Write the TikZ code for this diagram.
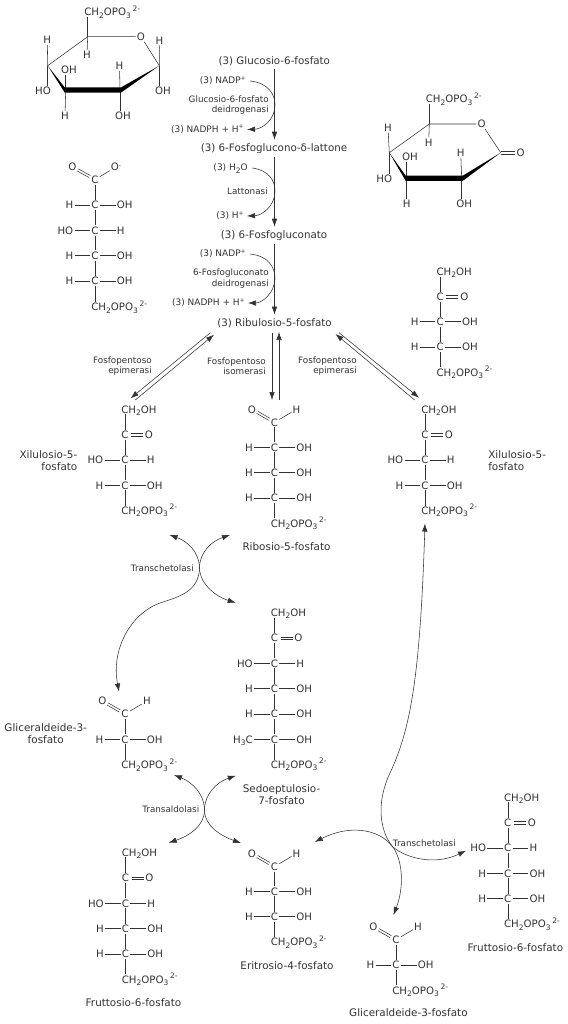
\documentclass[tikz,border=0pt]{standalone}
\usepackage{fontspec}
\setmainfont{DejaVu Sans}
\usetikzlibrary{arrows.meta,calc}
\definecolor{inkgrey}{RGB}{50,50,50}
\newcommand{\low}[1]{\smash{\raisebox{-2.5pt}{\fontsize{7.5}{8}\selectfont #1}}}
\newcommand{\upp}[1]{\smash{\raisebox{4.5pt}{\fontsize{7.5}{8}\selectfont #1}}}
\newcommand{\tinyup}[1]{\smash{\raisebox{3.5pt}{\fontsize{6}{7}\selectfont #1}}}
\newcommand{\phos}{CH\low{2}OPO\low{3}\,\upp{2-}}
% two parallel lines from node to node
\newcommand{\dbond}[3]{
  \draw[shorten <=#3,shorten >=6pt] ($(#1)!1.2pt!90:(#2)$) -- ($(#2)!1.2pt!-90:(#1)$);
  \draw[shorten <=#3,shorten >=6pt] ($(#1)!1.2pt!-90:(#2)$) -- ($(#2)!1.2pt!90:(#1)$);
}
% one carbon with its two side groups
\newcommand{\crow}[5]{
  \node[atom] (#1) at (#2,#3) {C};
  \node[atom,anchor=east] (#1l) at (#2-20.5,#3) {#4};
  \node[atom,anchor=west] (#1r) at (#2+20.5,#3) {#5};
  \draw (#1l) -- (#1);
  \draw (#1) -- (#1r);
}
% CH2OH on top, then the keto carbon
\newcommand{\ctop}[4]{
  \node[atom,anchor=west] (#1) at (#2-5,#3) {CH\low{2}OH};
  \node[atom] (#1c) at (#2,#4) {C};
  \node[atom] (#1o) at (#2+24,#4) {O};
  \draw (#1.south west -| #1c) -- (#1c);
  \dbond{#1c}{#1o}{6pt}
}
% aldehyde carbon
\newcommand{\cald}[3]{
  \node[atom] (#1) at (#2,#3) {C};
  \node[atom] (#1o) at (#2-22.5,#3-13) {O};
  \node[atom] (#1h) at (#2+22,#3-13) {H};
  \dbond{#1o}{#1}{6pt}
  \draw (#1) -- (#1h);
}
\newcommand{\cend}[4]{
  \node[atom,anchor=west] (#1) at (#2-5,#3) {\phos};
  \draw (#4) -- (#1.north west -| #4);
}
\tikzset{
  atom/.style={inner sep=1pt,font=\fontsize{10.2}{11}\selectfont},
  met/.style={inner sep=3.5pt,font=\fontsize{10.3}{12}\selectfont},
  side/.style={inner sep=1pt,font=\fontsize{9}{11}\selectfont},
  enz/.style={inner sep=0pt,align=right,anchor=east,font=\fontsize{8.8}{10.5}\selectfont},
  sugname/.style={inner sep=0pt,align=center,font=\fontsize{10.4}{12}\selectfont},
}
\begin{document}
\begin{tikzpicture}[x=1pt,y=-1pt,>={Latex[length=8pt,width=5.5pt]},line width=0.55pt,color=inkgrey]
  \useasboundingbox (0,0) rectangle (567,1024);

  % glucose-6-phosphate ring
  \coordinate (ga) at (87.7,36.7);
  \coordinate (gb) at (47.7,65.7);
  \coordinate (gc) at (65.7,90);
  \coordinate (gd) at (120,90);
  \coordinate (ge) at (159.3,65.7);
  \node[atom] (go) at (141,36.7) {O};
  \node[atom,anchor=west] (gp) at (83,12) {\phos};
  \node[atom] (gh1) at (87,55) {H};
  \node[atom] (gh2) at (47.3,40) {H};
  \node[atom] (gho) at (43,91) {HO};
  \node[atom] (goh1) at (69,69.5) {OH};
  \node[atom] (gh3) at (65,116) {H};
  \node[atom] (gh4) at (119.5,66) {H};
  \node[atom] (goh2) at (123,116) {OH};
  \node[atom] (gh5) at (159.5,40.5) {H};
  \node[atom] (goh3) at (163,91) {OH};
  \draw (gb) -- (ga) -- (go) -- (ge);
  \draw (ga) -- (gp.south west -| ga);
  \draw (ga) -- (gh1);
  \draw (gb) -- (gh2);
  \draw (gb) -- (gho.north -| gb);
  \draw (gc) -- (goh1.south -| gc);
  \draw (gc) -- (gh3);
  \draw (gd) -- (gh4);
  \draw (gd) -- (goh2.north -| gd);
  \draw (ge) -- (gh5);
  \draw (ge) -- (goh3.north -| ge);
  \fill[black] (gb) -- ($(gc)+(-1,-2.6)$) -- ($(gd)+(1,-2.6)$) -- (ge)
    -- ($(gd)+(1,2.6)$) -- ($(gc)+(-1,2.6)$) -- cycle;

  % lactone ring
  \coordinate (la) at (429.3,124);
  \coordinate (lb) at (389.3,152.7);
  \coordinate (lc) at (406.7,178.3);
  \coordinate (ld) at (461.7,178.3);
  \coordinate (le) at (500.7,152.7);
  \node[atom] (lo) at (481.7,124) {O};
  \node[atom] (lo2) at (520.7,152.7) {O};
  \node[atom,anchor=west] (lp) at (424.5,99) {\phos};
  \node[atom] (lh1) at (428.7,142.3) {H};
  \node[atom] (lh2) at (388,127.7) {H};
  \node[atom] (lho) at (384.3,178.7) {HO};
  \node[atom] (loh1) at (410,156.7) {OH};
  \node[atom] (lh3) at (406.7,203.7) {H};
  \node[atom] (lh4) at (460.7,152.7) {H};
  \node[atom] (loh2) at (464.3,203.7) {OH};
  \draw (lb) -- (la) -- (lo) -- (le);
  \dbond{le}{lo2}{0pt}
  \draw (la) -- (lp.south west -| la);
  \draw (la) -- (lh1);
  \draw (lb) -- (lh2);
  \draw (lb) -- (lho.north -| lb);
  \draw (lc) -- (loh1.south -| lc);
  \draw (lc) -- (lh3);
  \draw (ld) -- (lh4);
  \draw (ld) -- (loh2.north -| ld);
  \fill[black] (lb) -- ($(lc)+(-1,-2.6)$) -- ($(ld)+(1,-2.6)$) -- (le)
    -- ($(ld)+(1,2.6)$) -- ($(lc)+(-1,2.6)$) -- cycle;

  % 6-phosphogluconate
  \node[atom] (pc) at (95,179.5) {C};
  \node[atom] (pco) at (72.5,167) {O};
  \node[atom] (pcm) at (116,167) {O\tinyup{-}};
  \dbond{pco}{pc}{6pt}
  \draw (pc) -- (pcm);
  \crow{pa}{95}{205}{H}{OH}
  \crow{pb}{95}{230.5}{HO}{H}
  \crow{pd}{95}{255.5}{H}{OH}
  \crow{pe}{95}{281}{H}{OH}
  \cend{pf}{95}{307}{pe}
  \draw (pc) -- (pa);
  \draw (pa) -- (pb);
  \draw (pb) -- (pd);
  \draw (pd) -- (pe);

  % ribulose-5-phosphate
  \ctop{ra}{440.3}{271.7}{296.7}
  \crow{rb}{440.3}{321.7}{H}{OH}
  \crow{rc}{440.3}{347}{H}{OH}
  \cend{rd}{440.3}{372.5}{rc}
  \draw (rac) -- (rb);
  \draw (rb) -- (rc);

  % oxidative branch
  \node[met] (gluc) at (274.3,61) {(3) Glucosio-6-fosfato};
  \node[met] (lact) at (274,148.5) {(3) 6-Fosfoglucono-δ-lattone};
  \node[met] (pgl) at (274,235.5) {(3) 6-Fosfogluconato};
  \node[met] (ribu) at (274.5,323) {(3) Ribulosio-5-fosfato};
  \draw[->] (gluc.south -| ribu) -- (lact.north -| ribu);
  \draw[->] (lact.south -| ribu) -- (pgl.north -| ribu);
  \draw[->] (pgl.south -| ribu) -- (ribu.north);

  \node[side,anchor=east] (nadpa) at (247,81) {(3) NADP\tinyup{+}};
  \node[enz] (ga6) at (269,105) {Glucosio-6-fosfato\\deidrogenasi};
  \node[side,anchor=east] (nadha) at (245,129.5) {(3) NADPH + H\tinyup{+}};
  \draw[->] ([xshift=3pt]nadpa.east) .. controls (269,83) and (275,95) .. (275,105)
    .. controls (275,120) and (262,129) .. ([xshift=2pt]nadha.east);
  \node[side,anchor=east] (wat) at (249,168) {(3) H\low{2}O};
  \node[enz] (lat) at (268,191) {Lattonasi};
  \node[side,anchor=east] (prot) at (245,216) {(3) H\tinyup{+}};
  \draw[->] ([xshift=3pt]wat.east) .. controls (269,170) and (275,181) .. (275,191)
    .. controls (275,206) and (262,215.5) .. ([xshift=2pt]prot.east);
  \node[side,anchor=east] (nadpb) at (247,254) {(3) NADP\tinyup{+}};
  \node[enz] (pgd) at (269,278.5) {6-Fosfogluconato\\deidrogenasi};
  \node[side,anchor=east] (nadhb) at (246,303) {(3) NADPH + H\tinyup{+}};
  \draw[->] ([xshift=3pt]nadpb.east) .. controls (269,256) and (275,268) .. (275,278)
    .. controls (275,293) and (262,303) .. ([xshift=2pt]nadhb.east);

  % xylulose left
  \ctop{xa}{125}{409.3}{434.7}
  \crow{xb}{125}{460}{HO}{H}
  \crow{xc}{125}{485.3}{H}{OH}
  \cend{xd}{125}{510.7}{xc}
  \draw (xac) -- (xb);
  \draw (xb) -- (xc);
  \node[sugname,align=right,anchor=east] (xn) at (77.6,461) {Xilulosio-5-\\fosfato};

  % ribose
  \cald{ba}{274.5}{422.3}
  \crow{bb}{274.5}{447.3}{H}{OH}
  \crow{bc}{274.5}{472.7}{H}{OH}
  \crow{bd}{274.5}{498}{H}{OH}
  \cend{be}{274.5}{523.5}{bd}
  \draw (ba) -- (bb);
  \draw (bb) -- (bc);
  \draw (bc) -- (bd);
  \node[sugname] (bn) at (286.5,547) {Ribosio-5-fosfato};

  % xylulose right
  \ctop{ya}{425}{409.3}{434.7}
  \crow{yb}{425}{460}{HO}{H}
  \crow{yc}{425}{485.3}{H}{OH}
  \cend{yd}{425}{510.7}{yc}
  \draw (yac) -- (yb);
  \draw (yb) -- (yc);
  \node[sugname,align=left,anchor=west] (yn) at (488,461) {Xilulosio-5-\\fosfato};

  % isomerase and epimerase arrows
  \coordinate (aa) at (210.4,332.7);
  \coordinate (ab) at (130.6,398.3);
  \coordinate (ac) at (135.3,400);
  \coordinate (ad) at (214,334.7);
  \coordinate (ba1) at (272,332.5);
  \coordinate (ba2) at (272,400);
  \coordinate (bb1) at (279,400);
  \coordinate (bb2) at (279,332);
  \coordinate (ca) at (339,332.7);
  \coordinate (cb) at (419,397.7);
  \coordinate (cc) at (414.6,400);
  \coordinate (cd) at (335.5,334);
  \draw[->] (aa) -- (ab);
  \draw[->] (ac) -- (ad);
  \draw[->] (ba1) -- (ba2);
  \draw[->] (bb1) -- (bb2);
  \draw[->] (ca) -- (cb);
  \draw[->] (cc) -- (cd);
  \node[enz] (epl) at (152,366) {Fosfopentoso\\epimerasi};
  \node[enz] (iso) at (266,366) {Fosfopentoso\\isomerasi};
  \node[enz] (epr) at (357,366) {Fosfopentoso\\epimerasi};

  % sedoheptulose
  \ctop{sa}{274.5}{612.7}{638}
  \crow{sb}{274.5}{663.3}{HO}{H}
  \crow{sc}{274.5}{688.7}{H}{OH}
  \crow{sd}{274.5}{714}{H}{OH}
  \crow{se}{274.5}{739.3}{H\low{3}C}{OH}
  \cend{sf}{274.5}{764.7}{se}
  \draw (sac) -- (sb);
  \draw (sb) -- (sc);
  \draw (sc) -- (sd);
  \draw (sd) -- (se);
  \node[sugname] (sn) at (281.5,794.5) {Sedoeptulosio-\\7-fosfato};

  % glyceraldehyde left
  \cald{ga1}{125}{714}
  \crow{gb1}{125}{739.3}{H}{OH}
  \cend{gc1}{125}{765}{gb1}
  \draw (ga1) -- (gb1);
  \node[sugname] (gn) at (45.7,734) {Gliceraldeide-3-\\fosfato};

  % fructose left
  \ctop{fa}{125.5}{852.3}{878}
  \crow{fb}{125.5}{903.3}{HO}{H}
  \crow{fc}{125.5}{928.7}{H}{OH}
  \crow{fd}{125.5}{954}{H}{OH}
  \cend{fe}{125.5}{979.5}{fd}
  \draw (fac) -- (fb);
  \draw (fb) -- (fc);
  \draw (fc) -- (fd);
  \node[sugname] (fn) at (133.5,1002.7) {Fruttosio-6-fosfato};

  % erythrose
  \cald{ea}{274.5}{866.5}
  \crow{eb}{274.5}{891.3}{H}{OH}
  \crow{ec}{274.5}{916.7}{H}{OH}
  \cend{ed}{274.5}{942}{ec}
  \draw (ea) -- (eb);
  \draw (eb) -- (ec);
  \node[sugname] (en) at (287,965.3) {Eritrosio-4-fosfato};

  % glyceraldehyde bottom
  \cald{ha}{396}{939.7}
  \crow{hb}{396}{965}{H}{OH}
  \cend{hc}{396}{990.5}{hb}
  \draw (ha) -- (hb);
  \node[sugname] (hn) at (408.4,1013) {Gliceraldeide-3-fosfato};

  % fructose right
  \ctop{ka}{507.8}{797.3}{822.7}
  \crow{kb}{507.8}{848}{HO}{H}
  \crow{kc}{507.8}{873.3}{H}{OH}
  \crow{kd}{507.8}{898.7}{H}{OH}
  \cend{ke}{507.8}{924}{kd}
  \draw (kac) -- (kb);
  \draw (kb) -- (kc);
  \draw (kc) -- (kd);
  \node[sugname] (kn) at (515.4,947.3) {Fruttosio-6-fosfato};

  % first transketolase
  \coordinate (tk) at (199.5,568);
  \draw[->] (tk) .. controls (199.5,552) and (187,541) .. (169.5,535);
  \draw[->] (tk) .. controls (199.5,552) and (212,541) .. (230,535);
  \draw[->] (tk) .. controls (200,585) and (217,597) .. (235.7,602.7);
  \draw[->] (tk) .. controls (199,592) and (178,597) .. (160,603)
    .. controls (130,614) and (111,650) .. (119,691.5);
  \node[enz] (tkn) at (194,568) {Transchetolasi};

  % transaldolase
  \coordinate (ta) at (204.5,810);
  \draw[->] (ta) .. controls (204.5,794) and (192,782) .. (174,775);
  \draw[->] (ta) .. controls (204.5,794) and (217,782) .. (235.8,775.7);
  \draw[->] (ta) .. controls (204.5,826) and (189,836) .. (168.7,842.7);
  \draw[->] (ta) .. controls (204.5,826) and (221,836) .. (241,843);
  \node[enz] (tan) at (199.5,809.3) {Transaldolasi};

  % second transketolase
  \coordinate (tx) at (392,846);
  \draw[->] (tx) .. controls (402,856) and (432,867) .. (466,850.7);
  \draw[->] (tx) .. controls (381,832) and (375,805) .. (390,773)
    .. controls (410,730) and (420,680) .. (425,523.5);
  \draw[->] (tx) .. controls (378,828) and (348,825) .. (314.8,842);
  \draw[->] (tx) .. controls (402,858) and (405,885) .. (393.5,915);
  \node[enz] (txn) at (456,843) {Transchetolasi};
\end{tikzpicture}
\end{document}
